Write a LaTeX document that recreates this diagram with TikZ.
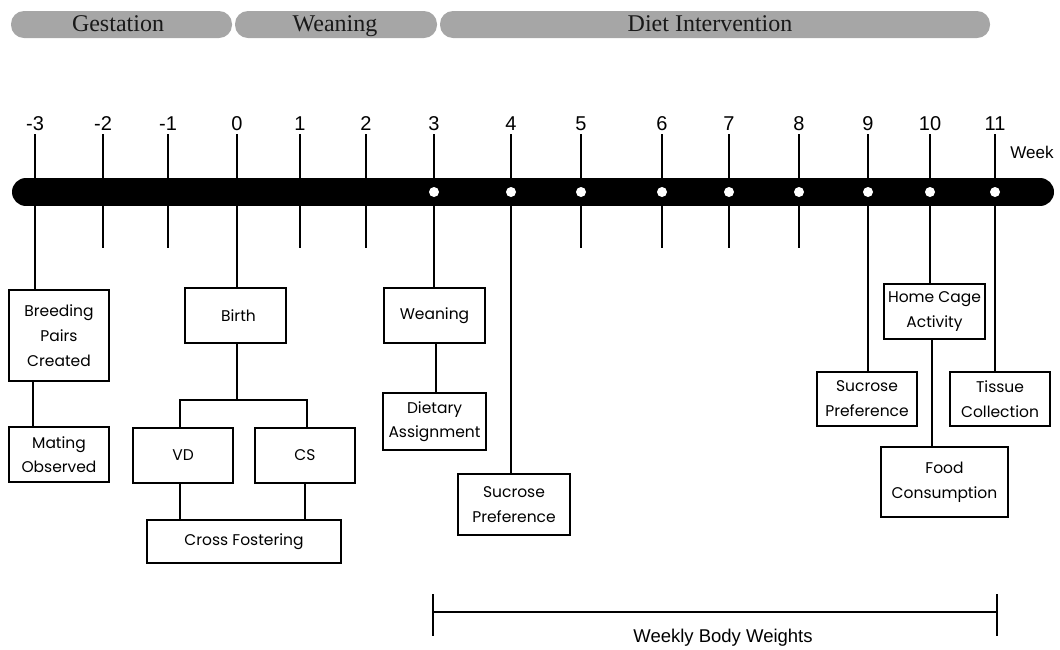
\documentclass[tikz,border=0pt]{standalone}
\usepackage{fontspec}
\newfontfamily\boxfont{Poppins}
\newfontfamily\numfont{Liberation Sans}
\newfontfamily\phasefont{Liberation Serif}
\definecolor{phase}{HTML}{A6A6A6}
\begin{document}
\begin{tikzpicture}[x=1pt,y=-1pt,
  phasebar/.style={fill=phase, rounded corners=13pt},
  phasetxt/.style={font=\phasefont\fontsize{24}{26}\selectfont, text=black!90, inner sep=0},
  wk/.style={font=\numfont\fontsize{20}{22}\selectfont, inner sep=0},
  evbox/.style={draw, line width=2.6pt, align=center, inner sep=0, font=\boxfont\fontsize{15.5}{25}\selectfont},
  conn/.style={line width=2.8pt},
  dot/.style={circle, fill=white, inner sep=0, minimum size=10pt}]
\useasboundingbox (0,0) rectangle (1060,649);
% phase bars
\fill[phasebar] (11,11) rectangle (232,38);
\fill[phasebar] (235,11) rectangle (437,38);
\fill[phasebar] (440,11) rectangle (990,38);
\node[phasetxt, anchor=base] (pg) at (118,31) {Gestation};
\node[phasetxt, anchor=base] (pw) at (335,31) {Weaning};
\node[phasetxt, anchor=base] (pd) at (710,31) {Diet Intervention};
% week coordinates
\foreach \n/\x in {m3/35,m2/103,m1/168,z0/237,p1/300,p2/366,p3/434,p4/511,p5/581,p6/662,p7/729,p8/799,p9/868,p10/930,p11/995}{
  \coordinate (w\n) at (\x,192);
  \coordinate (t\n) at (\x,134);
  \draw[conn] (t\n) -- (w\n);
}
\foreach \n/\x/\l in {m3/35/-3,m2/103/-2,m1/168/-1,z0/237/0,p1/300/1,p2/366/2,p3/434/3,p4/511/4,p5/581/5,p6/662/6,p7/729/7,p8/799/8,p9/868/9,p10/930/10,p11/995/11}{
  \node[wk, anchor=base] (lab\n) at (\x,130) {\l};
}
\node[font=\numfont\fontsize{17}{20}\selectfont, inner sep=0] (week) at (1032,152) {Week};
% short lower ticks
\foreach \n/\x in {m2/103,m1/168,p1/300,p2/366,p5/581,p6/662,p7/729,p8/799}{
  \coordinate (b\n) at (\x,248);
  \draw[conn] (w\n) -- (b\n);
}
% boxes
\node[evbox, minimum width=100pt, minimum height=91pt] (breed) at (59,335.5) {Breeding\\Pairs\\Created};
\node[evbox, minimum width=100pt, minimum height=55pt, font=\boxfont\fontsize{15.5}{24}\selectfont] (mating) at (59,454.5) {Mating\\Observed};
\node[evbox, minimum width=101pt, minimum height=55pt] (birth) at (235.5,315.5) {\hspace*{6pt}Birth};
\node[evbox, minimum width=100pt, minimum height=55pt] (vd) at (183,455.5) {VD};
\node[evbox, minimum width=100pt, minimum height=55pt] (cs) at (305,455.5) {CS};
\node[evbox, minimum width=194pt, minimum height=43pt] (cross) at (244,541.5) {Cross Fostering};
\node[evbox, minimum width=101pt, minimum height=55pt] (wean) at (434.5,315.5) {Weaning};
\node[evbox, minimum width=103pt, minimum height=57pt, font=\boxfont\fontsize{15.5}{24}\selectfont] (diet) at (434.5,421.5) {Dietary\\Assignment};
\node[evbox, minimum width=112pt, minimum height=61pt] (suc4) at (514,504.5) {Sucrose\\Preference};
\node[evbox, minimum width=101pt, minimum height=55pt] (home) at (934.5,311.5) {Home Cage\\Activity};
\node[evbox, minimum width=100pt, minimum height=54pt] (suc9) at (867,399) {Sucrose\\Preference};
\node[evbox, minimum width=100pt, minimum height=54pt] (tissue) at (1000,399) {Tissue\\Collection};
\node[evbox, minimum width=127pt, minimum height=70pt] (food) at (944.5,482) {Food\\Consumption};
% long connectors
\draw[conn] (wm3) -- (wm3 |- breed.north);
\draw[conn] (breed.south -| 33,0) -- (mating.north -| 33,0);
\draw[conn] (wz0) -- (wz0 |- birth.north);
\coordinate (split) at (237,400);
\draw[conn] (birth.south -| split) -- (split);
\draw[conn] (vd.north -| 180,0) |- (split) -| (cs.north -| 307,0);
\draw[conn] (vd.south -| 180,0) -- (cross.north -| 180,0);
\draw[conn] (cs.south -| 305,0) -- (cross.north -| 305,0);
\draw[conn] (wp3) -- (wp3 |- wean.north);
\draw[conn] (wean.south -| 436,0) -- (diet.north -| 436,0);
\draw[conn] (wp4) -- (wp4 |- suc4.north);
\draw[conn] (wp9) -- (wp9 |- suc9.north);
\draw[conn] (wp10) -- (wp10 |- home.north);
\draw[conn] (wp11) -- (wp11 |- tissue.north);
\draw[conn] (home.south -| 932,0) -- (food.north -| 932,0);
% main bar
\draw[line width=28pt, line cap=round] (26,192) -- (1040,192);
\foreach \n in {p3,p4,p5,p6,p7,p8,p9,p10,p11}{
  \node[dot] (d\n) at (w\n) {};
}
% weekly body weights
\coordinate (bwl) at (433,612);
\coordinate (bwr) at (997,612);
\draw[conn] (433,594) -- (433,636);
\draw[conn] (997,594) -- (997,636);
\draw[conn] (bwl) -- (bwr);
\node[font=\numfont\fontsize{18.5}{20}\selectfont, inner sep=0] (bw) at (723,638) {Weekly Body Weights};
\end{tikzpicture}
\end{document}
